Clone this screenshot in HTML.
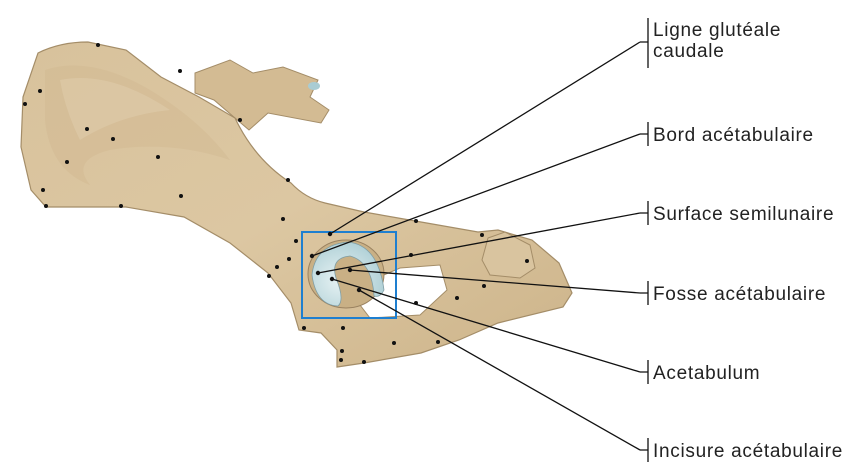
<!DOCTYPE html>
<html><head><meta charset="utf-8"><style>
html,body{margin:0;padding:0;background:#fff;}
svg{display:block;}
text{font-family:"Liberation Sans",sans-serif;font-size:19px;letter-spacing:0.7px;fill:#222;}
</style></head><body>
<svg width="854" height="467" viewBox="0 0 854 467" xmlns="http://www.w3.org/2000/svg">
<defs>
<linearGradient id="bone" x1="0" y1="0" x2="1" y2="1">
<stop offset="0" stop-color="#d8c29c"/><stop offset="0.5" stop-color="#dcc7a2"/><stop offset="1" stop-color="#cdb48a"/>
</linearGradient>
<radialGradient id="cart" cx="0.4" cy="0.6" r="0.7">
<stop offset="0" stop-color="#e8f3f4"/><stop offset="1" stop-color="#a9ccd3"/>
</radialGradient>
</defs>
<path d="M195,73 L230,60 L253,73 L283,67 L318,80 L310,97 L329,110 L321,123 L268,113 L249,130 L214,100 L195,93 Z" fill="#d3bb93" stroke="#a48d68" stroke-width="1"/>
<ellipse cx="314" cy="86" rx="6" ry="4" fill="#a9ccd3"/>
<path d="M38,53 Q60,42 88,42 L126,50 L161,77 L199,97 L235,118 Q255,160 291,183 Q305,198 325,203 L364,212 L421,222 L478,232 L498,230 L532,240 L559,263 L572,293 L563,307 L498,323 L459,340 L421,353 L364,363 L337,367 L337,350 L321,333 L299,330 L291,303 L268,273 L230,243 L184,217 L126,207 L46,207 L31,190 L21,147 L23,97 Z" fill="url(#bone)" stroke="#a48d68" stroke-width="1.2"/>
<path d="M45,70 Q90,55 150,90 Q200,120 230,160 Q170,140 110,150 Q70,160 90,185 Q50,170 45,120 Z" fill="#cdb58c" opacity="0.35"/>
<path d="M60,80 Q110,70 170,110 Q120,115 80,140 Q65,110 60,80Z" fill="#e4d3b3" opacity="0.4"/>
<path d="M488,238 L505,232 L530,245 L535,268 L520,278 L490,275 L482,260 Z" fill="#d9c49f" stroke="#a48d68" stroke-width="1"/>
<path d="M356,287 L400,268 L440,265 L447,290 L420,315 L370,318 L360,305 Z" fill="#fff" stroke="#a48d68" stroke-width="1"/>
<ellipse cx="346" cy="274" rx="38" ry="34" fill="#c9b085" stroke="#9a8260" stroke-width="1"/>
<path d="M312,275 Q315,245 348,242 Q378,245 384,290 Q380,298 374,296 Q372,262 350,256 Q330,258 336,278 Q345,300 338,306 Q316,305 312,275 Z" fill="url(#cart)" stroke="#7f9ea5" stroke-width="0.8"/>
<rect x="302" y="232" width="94" height="86" fill="none" stroke="#1e7fd0" stroke-width="2"/>
<g fill="#111">
<circle cx="98" cy="45" r="2"/><circle cx="180" cy="71" r="2"/><circle cx="40" cy="91" r="2"/><circle cx="25" cy="104" r="2"/>
<circle cx="87" cy="129" r="2"/><circle cx="113" cy="139" r="2"/><circle cx="67" cy="162" r="2"/><circle cx="158" cy="157" r="2"/>
<circle cx="43" cy="190" r="2"/><circle cx="46" cy="206" r="2"/><circle cx="121" cy="206" r="2"/><circle cx="181" cy="196" r="2"/>
<circle cx="240" cy="120" r="2"/><circle cx="288" cy="180" r="2"/><circle cx="283" cy="219" r="2"/><circle cx="296" cy="241" r="2"/>
<circle cx="289" cy="259" r="2"/><circle cx="277" cy="267" r="2"/><circle cx="269" cy="276" r="2"/><circle cx="416" cy="221" r="2"/>
<circle cx="482" cy="235" r="2"/><circle cx="411" cy="255" r="2"/><circle cx="527" cy="261" r="2"/><circle cx="484" cy="286" r="2"/>
<circle cx="457" cy="298" r="2"/><circle cx="416" cy="303" r="2"/><circle cx="438" cy="342" r="2"/><circle cx="304" cy="328" r="2"/>
<circle cx="343" cy="328" r="2"/><circle cx="394" cy="343" r="2"/><circle cx="342" cy="351" r="2"/><circle cx="341" cy="360" r="2"/><circle cx="364" cy="362" r="2"/>
<circle cx="330" cy="234" r="2.2"/><circle cx="312" cy="256" r="2.2"/><circle cx="318" cy="273" r="2.2"/><circle cx="350" cy="270" r="2.2"/><circle cx="332" cy="279" r="2.2"/><circle cx="359" cy="290" r="2.2"/>
</g>
<g stroke="#111" stroke-width="1.3" fill="none">
<line x1="330" y1="234" x2="640" y2="42"/>
<line x1="312" y1="256" x2="640" y2="134"/>
<line x1="318" y1="273" x2="640" y2="213"/>
<line x1="350" y1="270" x2="640" y2="293"/>
<line x1="332" y1="279" x2="640" y2="372"/>
<line x1="359" y1="290" x2="640" y2="450"/>
<path d="M640,42 H648 M648,18 V68"/>
<path d="M640,134 H648 M648,122 V146"/>
<path d="M640,213 H648 M648,201 V225"/>
<path d="M640,293 H648 M648,281 V305"/>
<path d="M640,372 H648 M648,360 V384"/>
<path d="M640,450 H648 M648,438 V462"/>
</g>
<text x="653" y="36">Ligne glutéale</text>
<text x="653" y="57">caudale</text>
<text x="653" y="141">Bord acétabulaire</text>
<text x="653" y="220">Surface semilunaire</text>
<text x="653" y="300">Fosse acétabulaire</text>
<text x="653" y="379">Acetabulum</text>
<text x="653" y="457">Incisure acétabulaire</text>
</svg>
</body></html>
